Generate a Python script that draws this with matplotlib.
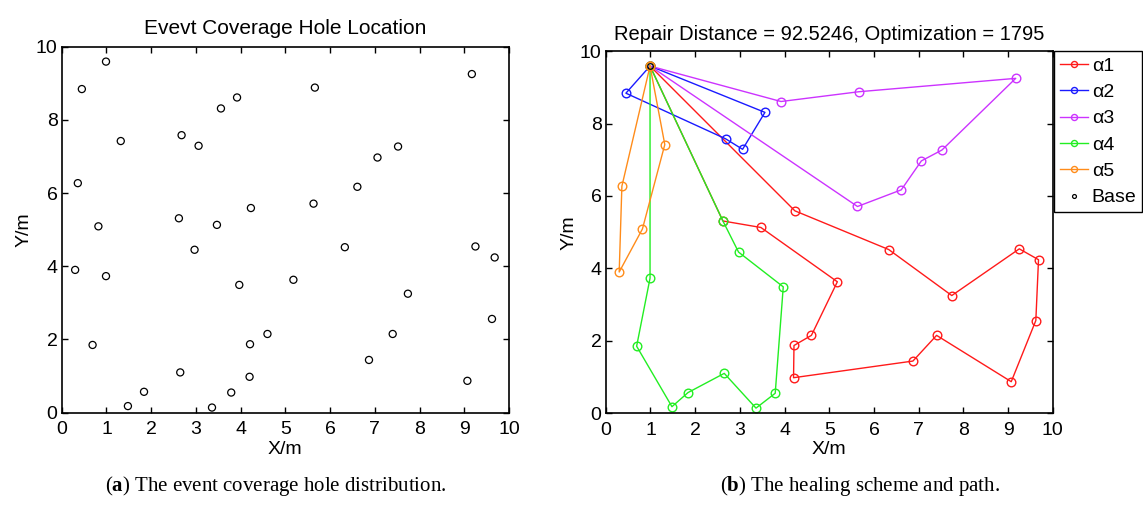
import matplotlib.pyplot as plt
import numpy as np

plt.rcParams['font.family'] = ['Liberation Sans', 'DejaVu Sans']
plt.rcParams['mathtext.fontset'] = 'custom'
plt.rcParams['mathtext.rm'] = 'Liberation Serif'
plt.rcParams['mathtext.bf'] = 'Liberation Serif:bold'

# event coverage holes (left plot)
hole_x = [0.99, 0.45, 1.32, 2.68, 3.06, 3.56, 3.92, 0.36, 0.82, 2.62,
          3.47, 4.23, 0.30, 0.99, 2.97, 3.97, 0.69, 4.21, 4.60, 2.65,
          4.20, 1.48, 1.84, 3.36, 3.79, 5.66, 9.17, 7.52, 7.06, 6.61,
          5.63, 6.33, 5.18, 9.25, 9.68, 7.74, 9.62, 7.40, 6.87, 9.07]
hole_y = [9.59, 8.84, 7.42, 7.58, 7.29, 8.31, 8.61, 6.27, 5.09, 5.31,
          5.13, 5.59, 3.90, 3.73, 4.45, 3.49, 1.85, 1.87, 2.15, 1.10,
          0.98, 0.18, 0.57, 0.14, 0.55, 8.88, 9.25, 7.27, 6.97, 6.17,
          5.71, 4.52, 3.63, 4.54, 4.24, 3.25, 2.56, 2.15, 1.44, 0.87]

base = (0.99, 9.59)

# healing paths (right plot), each starts and ends at the base
a1_x = [0.99, 2.62, 3.47, 5.18, 4.60, 4.21, 4.20, 6.87, 7.40, 9.07, 9.62, 9.68, 9.25, 7.74, 6.33, 4.23, 0.99]
a1_y = [9.59, 5.31, 5.13, 3.63, 2.15, 1.87, 0.98, 1.44, 2.15, 0.87, 2.56, 4.24, 4.54, 3.25, 4.52, 5.59, 9.59]
a2_x = [0.99, 0.45, 2.68, 3.06, 3.56, 0.99]
a2_y = [9.59, 8.84, 7.58, 7.29, 8.31, 9.59]
a3_x = [0.99, 3.92, 5.66, 9.17, 7.52, 7.06, 6.61, 5.63, 0.99]
a3_y = [9.59, 8.61, 8.88, 9.25, 7.27, 6.97, 6.17, 5.71, 9.59]
a4_x = [0.99, 2.62, 2.97, 3.97, 3.79, 3.36, 2.65, 1.84, 1.48, 0.69, 0.99, 0.99]
a4_y = [9.59, 5.31, 4.45, 3.49, 0.55, 0.14, 1.10, 0.57, 0.18, 1.85, 3.73, 9.59]
a5_x = [0.99, 0.36, 0.30, 0.82, 1.32, 0.99]
a5_y = [9.59, 6.27, 3.90, 5.09, 7.42, 9.59]

paths = [(a1_x, a1_y, '#ff1a1a', 'α1'),
         (a2_x, a2_y, '#1a1aff', 'α2'),
         (a3_x, a3_y, '#cc33ff', 'α3'),
         (a4_x, a4_y, '#22ee22', 'α4'),
         (a5_x, a5_y, '#ff8c1a', 'α5')]

fig = plt.figure(figsize=(11.43, 5.12), dpi=100)
ax1 = fig.add_axes([0.054, 0.194, 0.3913, 0.715])
ax2 = fig.add_axes([0.530, 0.193, 0.3911, 0.707])

ax1.scatter(hole_x, hole_y, s=26, facecolors='none', edgecolors='black', linewidths=0.9)
ax1.set_title('Evevt Coverage Hole Location', fontsize=15, pad=9)

for px, py, c, lab in paths:
    ax2.plot(px, py, color=c, lw=1, marker='o', markersize=6.2,
             markerfacecolor='none', markeredgecolor=c, markeredgewidth=1, label=lab)
ax2.plot([base[0]], [base[1]], 'o', color='black', markersize=4,
         markerfacecolor='none', markeredgewidth=0.9, label='Base')
ax2.set_title('Repair Distance = 92.5246, Optimization = 1795', fontsize=14.5, pad=8)

leg = ax2.legend(loc='upper left', bbox_to_anchor=(1.002, 1.0), fontsize=14,
                 frameon=True, fancybox=False, edgecolor='black', borderaxespad=0,
                 handlelength=1.45, handletextpad=0.2, borderpad=0.3, labelspacing=0.45,
                 markerscale=0.7, framealpha=1)
leg.get_frame().set_linewidth(1)

for ax in (ax1, ax2):
    ax.set_xlim(0, 10)
    ax.set_ylim(0, 10)
    ax.set_xticks(range(0, 11))
    ax.set_yticks(range(0, 11, 2))
    ax.tick_params(direction='in', top=True, right=True, length=4, width=1,
                   labelsize=14, pad=3)
    ax.tick_params(axis='x', pad=6)
    ax.set_xlabel('X/m', fontsize=14, labelpad=2)
    ax.set_ylabel('Y/m', fontsize=14, labelpad=2)
    for s in ax.spines.values():
        s.set_linewidth(1.2)

fig.text(0.241, 0.051, r'($\mathbf{a}$) The event coverage hole distribution.',
         ha='center', va='center', fontsize=15, family='Liberation Serif')
fig.text(0.752, 0.051, r'($\mathbf{b}$) The healing scheme and path.',
         ha='center', va='center', fontsize=15, family='Liberation Serif')

fig.savefig('out.png', dpi=100)
